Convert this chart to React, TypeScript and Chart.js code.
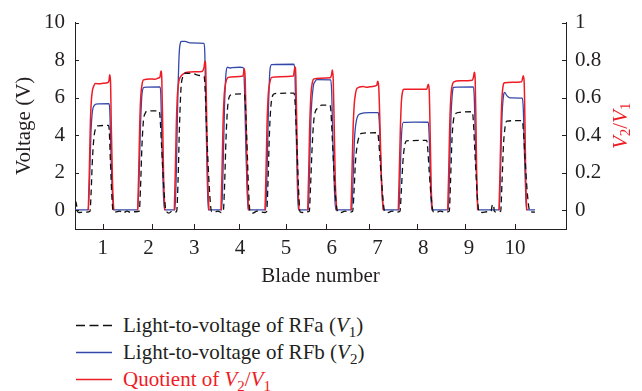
import React, { useEffect, useRef } from 'react';
import { Chart, registerables } from 'chart.js';

Chart.register(...registerables);

const FONT = "'Liberation Serif', 'Times New Roman', serif";
const INK = '#231f20';
const RED = '#ee1c25';
const BLUE = '#3348aa';
const FS = 21;

// x axis: acquisition time (arbitrary units)
const timeMin = 0;
const timeMax = 491;
const bladeLabels = ['1', '2', '3', '4', '5', '6', '7', '8', '9', '10'];
const bladeLabelTimes = [27.7, 73.5, 119.3, 165.1, 210.9, 256.7, 302.5, 348.3, 394.1, 439.9];
const bladeTickTimes = [27.7, 76.7, 119, 164.3, 211, 251, 294.3, 342.3, 390, 440];
const voltageTicks = [0, 2, 4, 6, 8, 10];
const ratioTicks = [0, 0.2, 0.4, 0.6, 0.8, 1];

// Light-to-voltage of RFa (V1)
const v1Points: [number, number][] = [
  [0, 0.45], [1, 0.45], [2.5, -0.08], [4, -0.12], [8, -0.1], [12, -0.1],
  [15, -0.05], [16, 0.8], [17.5, 2.8], [19, 3.9], [20.5, 4.35], [23, 4.5], [33.5, 4.52], [34.3, 4.2], [35.5, 2.5], [37, 0.6], [38.3, -0.08],
  [40, -0.1], [45, -0.05], [48, -0.15], [52, -0.05], [56, -0.12], [60, -0.08],
  [64.3, -0.05], [65.5, 1.2], [67, 3.5], [68.5, 4.8], [70.5, 5.2], [72, 5.28], [84, 5.3], [85, 5], [86.5, 3.5], [88.5, 1.5], [90.5, 0.1], [91.7, -0.08],
  [94, -0.15], [97, -0.05], [100, -0.1],
  [101.7, -0.05], [103, 1.5], [104.5, 4.5], [106, 6.5], [108, 7.15], [110, 7.3], [118, 7.28], [125, 7.18], [129, 7.15], [130, 6.6], [131.5, 4.5], [133.5, 2], [135.5, 0.3], [136.7, -0.08],
  [139, -0.1], [143, -0.05], [146, -0.12],
  [148.3, -0.05], [149.5, 1.2], [151, 3.8], [152.5, 5.4], [154, 6.0], [156, 6.15], [169.3, 6.2], [170.3, 5.7], [171.8, 3.8], [173.5, 1.2], [175, -0.08],
  [178, -0.15], [182, -0.05], [186, -0.1], [190, -0.12],
  [191.7, -0.05], [193, 1.5], [194.5, 4.2], [196, 5.6], [198, 6.15], [200, 6.22], [219, 6.24], [220, 5.8], [221.5, 4], [223.5, 1.2], [225, -0.08],
  [228, -0.12], [232, -0.08],
  [234.3, -0.05], [235.5, 1.2], [237, 3.2], [238.5, 4.6], [240, 5.2], [243, 5.45], [246.7, 5.6], [255, 5.6], [256, 5.2], [257.5, 3.6], [259.5, 1.5], [261.5, 0.2], [262.7, -0.08],
  [266, -0.12], [270, -0.05], [274, -0.1],
  [277.7, -0.05], [279, 1], [280.5, 2.6], [282, 3.4], [284, 3.9], [286.7, 4.1], [302.7, 4.13], [303.7, 3.7], [305.3, 2.5], [307.5, 0.9], [309, 0.1], [310, -0.08],
  [313, -0.12], [317, -0.05], [321, -0.1],
  [325, -0.05], [326.3, 1], [327.8, 2.5], [329.5, 3.4], [331.7, 3.7], [351.7, 3.72], [352.7, 3.3], [354.3, 2], [356.5, 0.5], [358.3, -0.08],
  [361, -0.12], [365, -0.05], [370, -0.1],
  [374.3, -0.05], [375.5, 1.5], [377, 3.8], [378.5, 4.8], [380.7, 5.15], [385, 5.22], [397.3, 5.25], [398.3, 4.8], [399.8, 3.2], [402, 1], [404, -0.08],
  [407, -0.12], [412, -0.08], [416, -0.05], [417.5, 0.3], [418.5, 0.3], [419.3, -0.05], [422, -0.1],
  [425.7, -0.05], [427, 1.5], [428.5, 3.5], [430, 4.4], [431.7, 4.75], [447.3, 4.78], [448.3, 4.3], [450, 2.8], [452.5, 0.8], [455, -0.08], [460, -0.1],
];

// Light-to-voltage of RFb (V2)
const v2Points: [number, number][] = [
  [0, 0.02], [13.2, 0.02], [14.5, 1.5], [16, 4.2], [17.5, 5.3], [19.5, 5.6], [21, 5.66], [34, 5.68], [34.8, 5.3], [36, 3], [37.5, 0.8], [38.7, 0.02],
  [62.7, 0.02], [64, 1.5], [65.5, 4.5], [67, 6.2], [69, 6.55], [85, 6.57], [85.8, 6.2], [87, 3.5], [88.3, 1], [89.5, 0.02],
  [100, 0.02], [101.3, 2], [102.8, 6], [104.5, 8.6], [106.7, 9.0], [110, 9.0], [115, 8.92], [129, 8.89], [129.8, 8.4], [131, 5], [132.3, 1.5], [133.3, 0.02],
  [146.7, 0.02], [148, 2], [149.5, 5.5], [151, 7.3], [152.5, 7.62], [155, 7.58], [157, 7.6], [165, 7.62], [168.3, 7.6], [169.5, 6.5], [171, 3], [172.3, 0.8], [173.3, 0.02],
  [190.7, 0.02], [192, 2], [193.5, 5.5], [195, 7.5], [196.7, 7.76], [219, 7.78], [220, 7.2], [221.3, 4], [222.5, 1], [223.5, 0.02],
  [233.3, 0.02], [234.5, 2], [236, 5], [238.3, 6.6], [240, 6.85], [241.7, 6.96], [255.7, 6.95], [256.7, 6.3], [258, 3.5], [259.5, 1], [260.7, 0.02],
  [276.7, 0.02], [278, 1.5], [279.5, 3.8], [281.5, 4.8], [285, 5.13], [295, 5.2], [303.3, 5.2], [304.3, 4.7], [305.5, 3], [307, 1], [308.3, 0.02],
  [324, 0.02], [325.2, 2], [326.5, 4], [328.3, 4.68], [340, 4.7], [353.3, 4.69], [354.3, 3.8], [355.5, 1.5], [356.7, 0.02],
  [373.3, 0.02], [374.5, 2], [376, 5], [377.5, 6.3], [378.5, 6.55], [398.3, 6.57], [399.3, 6], [400.5, 3.5], [402, 1], [403.3, 0.02],
  [424.3, 0.02], [425.5, 2], [427, 5], [428.5, 6.1], [429.5, 6.28], [432, 6.1], [435, 5.99], [447.3, 5.97], [448.3, 5.4], [449.5, 3], [450.7, 0.8], [451.7, 0.02], [460, 0.02],
];

// Quotient V2/V1 (null = gap between blades)
const ratioPoints: [number, number | null][] = [
  [13.3, 0], [14.3, 0.2], [15.3, 0.45], [16.3, 0.58], [17.5, 0.64], [19, 0.665], [20.5, 0.675], [25, 0.674], [28, 0.677], [33, 0.681], [34, 0.69], [34.7, 0.722], [35.5, 0.69], [36.3, 0.45], [37.5, 0.15], [38.7, 0], [50, null],
  [62.7, 0], [63.7, 0.2], [64.7, 0.45], [65.7, 0.6], [67, 0.67], [68.5, 0.695], [75, 0.7], [80, 0.698], [83.3, 0.705], [85, 0.71], [86, 0.742], [86.8, 0.7], [87.7, 0.45], [88.7, 0.15], [89.8, 0], [95, null],
  [99.3, 0], [100.3, 0.2], [101.3, 0.45], [102.5, 0.62], [104, 0.69], [106, 0.715], [108, 0.725], [112, 0.735], [120, 0.738], [127, 0.74], [129, 0.76], [130, 0.794], [130.8, 0.75], [131.8, 0.45], [132.8, 0.15], [134, 0], [140, null],
  [146, 0], [147, 0.2], [148, 0.45], [149.3, 0.62], [150.8, 0.68], [153.3, 0.708], [160, 0.712], [168, 0.715], [169.3, 0.756], [170.2, 0.7], [171.2, 0.45], [172.3, 0.15], [173.5, 0], [180, null],
  [190, 0], [191, 0.2], [192, 0.45], [193.3, 0.62], [194.8, 0.68], [196.7, 0.708], [205, 0.712], [218.3, 0.715], [220, 0.764], [220.8, 0.72], [221.8, 0.45], [222.8, 0.15], [224, 0], [228, null],
  [232.7, 0], [233.7, 0.2], [234.7, 0.45], [236, 0.62], [237.3, 0.68], [239, 0.7], [245, 0.704], [255, 0.706], [256.5, 0.72], [257.3, 0.747], [258.2, 0.7], [259.2, 0.45], [260.3, 0.15], [261.7, 0], [268, null],
  [276, 0], [277, 0.2], [278, 0.42], [279.2, 0.56], [280.5, 0.62], [282, 0.65], [288, 0.66], [292, 0.655], [295, 0.658], [301.7, 0.665], [302.7, 0.688], [303.7, 0.66], [305, 0.45], [306.5, 0.15], [308.3, 0], [315, null],
  [323.3, 0], [324.3, 0.2], [325.3, 0.42], [326.3, 0.57], [327.5, 0.63], [329, 0.645], [340, 0.645], [351.7, 0.645], [353.3, 0.671], [354.2, 0.64], [355.2, 0.4], [356.2, 0.12], [357.3, 0], [365, null],
  [372.7, 0], [373.7, 0.2], [374.7, 0.45], [375.8, 0.6], [377, 0.66], [378.5, 0.683], [385, 0.69], [397.3, 0.693], [398.5, 0.71], [399.3, 0.735], [400.2, 0.69], [401, 0.45], [401.8, 0.15], [402.7, 0], [410, null],
  [424, 0], [425, 0.2], [426, 0.45], [427, 0.6], [428, 0.66], [429.5, 0.679], [438, 0.682], [446.7, 0.685], [448.3, 0.717], [449.2, 0.68], [450, 0.45], [450.8, 0.15], [451.7, 0],
];

const toXY = (pts: [number, number | null][]) => pts.map(([x, y]) => ({ x, y }));

const decorPlugin = {
  id: 'decor',
  afterDraw(chart: any) {
    const { ctx, chartArea, scales } = chart;
    const { left, right, top, bottom } = chartArea;
    ctx.save();
    ctx.strokeStyle = INK;
    ctx.lineWidth = 1;
    ctx.beginPath();
    voltageTicks.forEach((v) => {
      const y = Math.round(scales.y.getPixelForValue(v)) + 0.5;
      ctx.moveTo(left, y);
      ctx.lineTo(left + 4, y);
    });
    ratioTicks.forEach((v) => {
      const y = Math.round(scales.y2.getPixelForValue(v)) + 0.5;
      ctx.moveTo(right - 4, y);
      ctx.lineTo(right, y);
    });
    bladeTickTimes.forEach((t) => {
      const x = Math.round(scales.x.getPixelForValue(t)) + 0.5;
      ctx.moveTo(x, bottom);
      ctx.lineTo(x, bottom - 5);
    });
    ctx.stroke();

    // right axis title V2/V1 rotated -90deg
    const cx = right + 55;
    const cy = (top + bottom) / 2;
    ctx.translate(cx, cy);
    ctx.rotate(-Math.PI / 2);
    ctx.fillStyle = RED;
    ctx.textBaseline = 'middle';
    const big = `italic ${FS}px ${FONT}`;
    const small = `15px ${FONT}`;
    const parts: [string, string, number][] = [
      ['V', big, 0], ['2', small, 5], ['/', `${FS}px ${FONT}`, 0], ['V', big, 0], ['1', small, 5],
    ];
    let total = 0;
    parts.forEach(([t, f]) => { ctx.font = f; total += ctx.measureText(t).width; });
    let x = -total / 2;
    parts.forEach(([t, f, dy]) => {
      ctx.font = f;
      ctx.fillText(t, x, dy);
      x += ctx.measureText(t).width;
    });
    ctx.restore();
  },
};

function LegendRow({ top, children, line }: { top: number; children: any; line: any }) {
  return (
    <div style={{ position: 'absolute', left: 0, top, height: 25, display: 'flex', alignItems: 'center' }}>
      <svg width={123} height={25} style={{ display: 'block' }}>{line}</svg>
      <span style={{ fontFamily: FONT, fontSize: FS, lineHeight: '25px', whiteSpace: 'nowrap' }}>{children}</span>
    </div>
  );
}

export default function App() {
  const ref = useRef<HTMLCanvasElement>(null);
  useEffect(() => {
    const canvas = ref.current!;
    const chart = new Chart(canvas, {
      type: 'line',
      data: {
        datasets: [
          {
            label: 'Light-to-voltage of RFa (V1)',
            data: toXY(v1Points),
            yAxisID: 'y',
            borderColor: '#111',
            borderWidth: 1.3,
            borderDash: [6, 4],
            pointRadius: 0,
            cubicInterpolationMode: 'monotone',
            order: 0,
          },
          {
            label: 'Light-to-voltage of RFb (V2)',
            data: toXY(v2Points),
            yAxisID: 'y',
            borderColor: BLUE,
            borderWidth: 1.3,
            pointRadius: 0,
            cubicInterpolationMode: 'monotone',
            order: 2,
          },
          {
            label: 'Quotient of V2/V1',
            data: toXY(ratioPoints),
            yAxisID: 'y2',
            borderColor: RED,
            borderWidth: 1.5,
            pointRadius: 0,
            spanGaps: false,
            cubicInterpolationMode: 'monotone',
            order: 1,
          },
        ],
      } as any,
      options: {
        responsive: false,
        animation: false,
        parsing: true,
        layout: { padding: { top: 14, left: 0, right: 0, bottom: 0 } },
        plugins: { legend: { display: false }, tooltip: { enabled: false } },
        scales: {
          x: {
            type: 'linear',
            min: timeMin,
            max: timeMax,
            grid: { display: false, drawTicks: false },
            border: { display: true, color: INK, width: 1 },
            afterBuildTicks: (s: any) => { s.ticks = bladeLabelTimes.map((v) => ({ value: v })); },
            afterFit: (s: any) => { s.height = 71; },
            ticks: {
              autoSkip: false,
              maxRotation: 0,
              padding: 7,
              color: INK,
              font: { family: FONT, size: FS },
              callback: (_v: any, i: number) => bladeLabels[i],
            },
            title: {
              display: true,
              text: 'Blade number',
              color: INK,
              font: { family: FONT, size: FS },
              padding: { top: 0, bottom: 11 },
            },
          },
          y: {
            type: 'linear',
            position: 'left',
            min: -1,
            max: 10,
            grid: { display: false, drawTicks: false },
            border: { display: true, color: INK, width: 1 },
            afterBuildTicks: (s: any) => { s.ticks = voltageTicks.map((v) => ({ value: v })); },
            afterFit: (s: any) => { s.width = 75; },
            ticks: {
              padding: 10,
              color: INK,
              font: { family: FONT, size: FS },
              callback: (v: any) => String(v),
            },
            title: {
              display: true,
              text: 'Voltage (V)',
              color: INK,
              font: { family: FONT, size: FS },
              padding: { top: 12, bottom: 0 },
            },
          },
          y2: {
            type: 'linear',
            position: 'right',
            min: -0.1,
            max: 1,
            grid: { display: false, drawTicks: false },
            border: { display: true, color: INK, width: 1 },
            afterBuildTicks: (s: any) => { s.ticks = ratioTicks.map((v) => ({ value: v })); },
            afterFit: (s: any) => { s.width = 76; },
            ticks: {
              padding: 9,
              color: INK,
              font: { family: FONT, size: FS },
              callback: (v: any) => (v === 0 ? '0' : v === 1 ? '1' : Number(v).toFixed(1)),
            },
          },
        },
      } as any,
      plugins: [decorPlugin],
    });
    return () => chart.destroy();
  }, []);

  const sub = { fontSize: 15, verticalAlign: '-5px', lineHeight: 0 } as any;
  return (
    <div style={{ position: 'absolute', left: 0, top: 0, width: 642, height: 391, background: '#fff', overflow: 'hidden' }}>
      <canvas ref={ref} width={642} height={300} style={{ position: 'absolute', left: 0, top: 0 }} />
      <LegendRow
        top={312.5}
        line={<line x1={76} x2={112} y1={12.5} y2={12.5} stroke="#111" strokeWidth={1.3} strokeDasharray="9 4.5" />}
      >
        <span style={{ color: INK }}>Light-to-voltage of RFa (<i>V</i><span style={sub}>1</span>)</span>
      </LegendRow>
      <LegendRow
        top={340}
        line={<line x1={76} x2={112} y1={12.5} y2={12.5} stroke={BLUE} strokeWidth={1.3} />}
      >
        <span style={{ color: INK }}>Light-to-voltage of RFb (<i>V</i><span style={sub}>2</span>)</span>
      </LegendRow>
      <LegendRow
        top={366.5}
        line={<line x1={76} x2={112} y1={12.5} y2={12.5} stroke={RED} strokeWidth={1.5} />}
      >
        <span style={{ color: RED }}>Quotient of <i>V</i><span style={sub}>2</span>/<i>V</i><span style={sub}>1</span></span>
      </LegendRow>
    </div>
  );
}
